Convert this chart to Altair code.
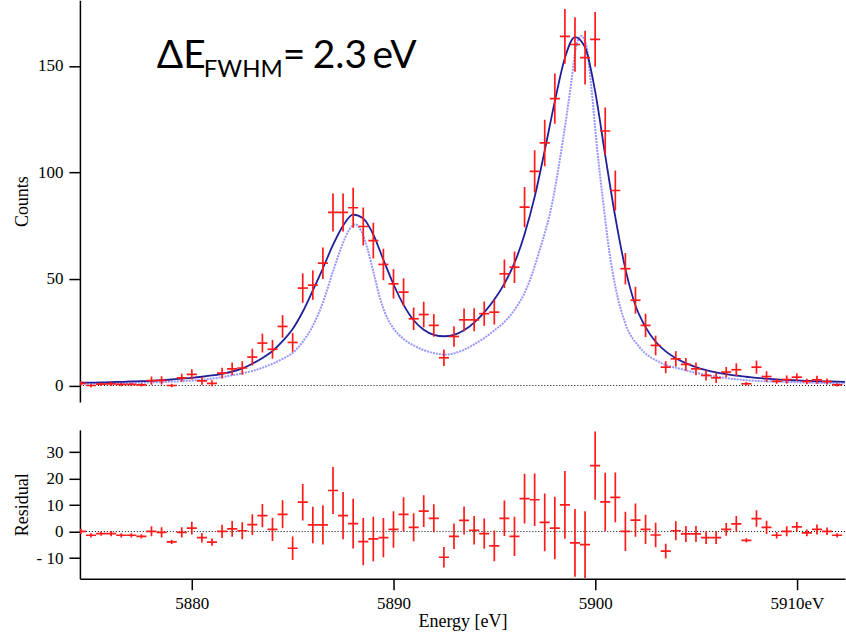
import altair as alt
import pandas as pd

# ---------------- data ----------------
energy = [5874.5, 5875.0, 5875.5, 5876.0, 5876.5, 5877.0, 5877.5, 5878.0, 5878.5, 5879.0,
          5879.5, 5880.0, 5880.5, 5881.0, 5881.5, 5882.0, 5882.5, 5883.0, 5883.5, 5884.0,
          5884.5, 5885.0, 5885.5, 5886.0, 5886.5, 5887.0, 5887.5, 5888.0, 5888.5, 5889.0,
          5889.5, 5890.0, 5890.5, 5891.0, 5891.5, 5892.0, 5892.5, 5893.0, 5893.5, 5894.0,
          5894.5, 5895.0, 5895.5, 5896.0, 5896.5, 5897.0, 5897.5, 5898.0, 5898.5, 5899.0,
          5899.5, 5900.0, 5900.5, 5901.0, 5901.5, 5902.0, 5902.5, 5903.0, 5903.5, 5904.0,
          5904.5, 5905.0, 5905.5, 5906.0, 5906.5, 5907.0, 5907.5, 5908.0, 5908.5, 5909.0,
          5909.5, 5910.0, 5910.5, 5911.0, 5911.5, 5912.0]

counts = [1.0, 0.0, 0.6, 0.8, 0.5, 0.5, 0.3, 2.3, 2.4, 0.0,
          3.6, 5.2, 2.2, 1.0, 5.8, 7.8, 8.2, 13.3, 19.9, 17.0,
          27.7, 20.2, 45.7, 47.1, 57.4, 81.2, 81.2, 83.4, 74.6, 68.0,
          56.8, 47.7, 43.8, 31.3, 33.3, 28.2, 13.0, 23.0, 30.8, 30.8,
          33.7, 34.4, 52.4, 55.5, 83.7, 100.5, 113.8, 134.6, 163.8, 160.0,
          153.8, 162.4, 119.4, 91.5, 54.8, 40.0, 28.2, 18.8, 8.6, 12.5,
          9.9, 7.8, 4.7, 3.6, 6.3, 7.4, 0.8, 8.6, 4.2, 2.0,
          2.8, 3.9, 1.9, 2.7, 1.9, 0.3]

errors = [1.0, 0.8, 0.8, 1.0, 0.8, 0.8, 0.8, 1.9, 1.9, 0.8,
          1.9, 2.4, 1.8, 1.4, 2.5, 3.0, 3.2, 3.9, 4.4, 4.4,
          5.3, 4.4, 6.9, 6.9, 7.4, 8.9, 8.9, 9.4, 8.9, 8.4,
          7.4, 6.9, 6.5, 5.3, 6.0, 5.3, 3.9, 4.8, 5.3, 5.4,
          5.7, 5.8, 6.7, 7.4, 9.4, 9.9, 10.9, 11.8, 12.8, 12.8,
          12.6, 12.9, 11.0, 9.4, 7.4, 6.3, 5.5, 4.6, 2.8, 3.6,
          3.0, 3.0, 2.4, 2.4, 2.4, 3.0, 0.8, 3.1, 2.5, 1.2,
          1.9, 1.8, 1.3, 1.9, 1.4, 0.8]

residual = [0.1, -1.4, -0.8, -0.8, -1.4, -1.4, -1.8, 0.1, -0.3, -3.9,
            -0.3, 1.3, -2.3, -4.0, 0.1, 1.0, 0.3, 2.6, 6.0, 0.8,
            6.5, -6.3, 11.1, 2.5, 2.5, 15.5, 6.0, 3.0, -3.8, -2.8,
            -2.3, 0.8, 6.5, 1.6, 7.7, 5.0, -9.7, -1.8, 4.2, 0.5,
            -0.8, -5.4, 5.0, -1.8, 12.4, 12.0, 3.5, 1.3, 10.1, -4.3,
            -4.9, 24.9, 11.2, 12.9, 0.1, 4.3, 0.8, -1.3, -7.4, 0.3,
            -0.9, -0.9, -2.3, -2.3, 0.8, 2.9, -3.3, 4.9, 1.6, -1.4,
            0.1, 1.8, -0.5, 0.8, 0.1, -1.4]

model_energy = energy + [5912.4]
model = [1.3, 1.3, 1.4, 1.6, 1.7, 1.9, 2.0, 2.2, 2.5, 2.8,
         3.2, 3.6, 4.1, 4.7, 5.5, 6.5, 8.0, 10.2, 12.9, 16.2,
         20.8, 26.5, 34.6, 44.6, 55.0, 66.0, 75.0, 80.2, 78.4, 70.8,
         59.0, 47.5, 37.8, 30.6, 26.2, 23.8, 23.1, 23.8, 25.9, 29.5,
         34.3, 40.3, 47.8, 57.5, 71.0, 88.5, 110.3, 133.3, 153.7, 163.5,
         158.7, 138.0, 108.0, 79.0, 54.7, 37.5, 27.4, 20.5, 16.0, 12.8,
         10.5, 8.6, 7.2, 6.1, 5.3, 4.6, 4.1, 3.6, 3.2, 2.9,
         2.6, 2.4, 2.2, 2.0, 1.9, 1.8, 1.7]

intrinsic_energy = [5874.5, 5876.0, 5877.5, 5879.0, 5880.0, 5881.0, 5882.0, 5883.0, 5884.0,
                    5884.5, 5885.0, 5885.5, 5886.0, 5886.5, 5887.0, 5887.5, 5887.8, 5888.1,
                    5888.4, 5888.7, 5889.0, 5889.3, 5889.7, 5890.0, 5890.5, 5891.0, 5891.5,
                    5892.0, 5892.6, 5893.3, 5894.0, 5894.5, 5895.0, 5895.6, 5896.0, 5896.6,
                    5897.2, 5897.9, 5898.4, 5898.8, 5899.05, 5899.3, 5899.55, 5899.8, 5900.1,
                    5900.4, 5900.7, 5901.0, 5901.5, 5902.2, 5903.2, 5904.3, 5905.6, 5907.6,
                    5910.0, 5912.4]
intrinsic = [0.8, 1.0, 1.3, 1.8, 2.3, 3.2, 4.8, 6.8, 10.2,
             12.5, 15.3, 20.5, 28.0, 39.0, 53.5, 67.0, 73.0, 75.6,
             72.5, 64.5, 53.5, 42.0, 31.5, 26.8, 21.8, 18.8, 16.6,
             15.2, 14.5, 16.0, 19.3, 22.3, 25.8, 30.8, 35.5, 45.5,
             62.0, 87.0, 115.0, 141.0, 158.5, 164.0, 160.0, 141.0, 111.0,
             86.0, 63.0, 46.5, 29.0, 18.0, 10.9, 7.6, 4.8, 2.4,
             1.5, 0.9]

x_ticks = [5880, 5890, 5900, 5910]
count_ticks = [0, 50, 100, 150]
resid_ticks = [-10, 0, 10, 20, 30]

# ---------------- styling ----------------
RED = "#ff1a1a"
NAVY = "#1f1f9c"
LIGHT = "#9696ff"
SERIF = "Liberation Serif"
SANS = "Lato"

W = 766
H_TOP = 402
H_BOT = 149
X_DOMAIN = [5874.45, 5912.39]
TOP_DOMAIN = [-7.7, 180.7]
BOT_DOMAIN = [-17.8, 38.4]

df = pd.DataFrame({"E": energy, "counts": counts, "err": errors, "resid": residual})
df_model = pd.DataFrame({"E": model_energy, "v": model})
df_intr = pd.DataFrame({"E": intrinsic_energy, "v": intrinsic})
zero = pd.DataFrame({"z": [0]})

xs = alt.Scale(domain=X_DOMAIN, nice=False, zero=False)
ys_top = alt.Scale(domain=TOP_DOMAIN, nice=False, zero=False)
ys_bot = alt.Scale(domain=BOT_DOMAIN, nice=False, zero=False)

common_axis = dict(grid=False, domainColor="black", tickColor="black", labelColor="black",
                   titleColor="black", domainWidth=1.5, tickWidth=1.5, tickSize=11,
                   labelPadding=6, labelFont=SERIF, labelFontSize=17, titleFont=SERIF,
                   titleFontSize=18, titleFontWeight="normal")

y_axis_top = alt.Axis(values=count_ticks, title="Counts", titleX=-52,
                      titleBaseline="alphabetic", **common_axis)
y_axis_bot = alt.Axis(values=resid_ticks, title="Residual", titleX=-52,
                      titleBaseline="alphabetic",
                      labelExpr="datum.value < 0 ? '- ' + abs(datum.value) : datum.label",
                      **common_axis)
x_axis_bot = alt.Axis(values=x_ticks, format="d", title="Energy [eV]",
                      labelExpr="datum.value == 5910 ? '5910eV' : datum.label",
                      titleY=48, titleBaseline="alphabetic", **common_axis)

def X(field):
    return alt.X(field, type="quantitative", scale=xs, axis=None)

def Ytop(field):
    return alt.Y(field, type="quantitative", scale=ys_top, axis=y_axis_top)

def Ybot(field):
    return alt.Y(field, type="quantitative", scale=ys_bot, axis=y_axis_bot)

# ---------------- top panel ----------------
base = alt.Chart(df).transform_calculate(
    lo="datum.counts - datum.err", hi="datum.counts + datum.err",
    xl="datum.E - 0.25", xr="datum.E + 0.25",
    rlo="datum.resid - datum.err", rhi="datum.resid + datum.err")

zero_top = alt.Chart(zero).mark_rule(color="black", strokeDash=[1, 2], strokeWidth=1).encode(
    y=alt.Y("z:Q", scale=ys_top, axis=y_axis_top))

intr_line = alt.Chart(df_intr).mark_line(color=LIGHT, strokeWidth=2, strokeDash=[2, 1],
                                         interpolate="monotone", clip=True).encode(
    x=X("E"), y=Ytop("v"))

model_line = alt.Chart(df_model).mark_line(color=NAVY, strokeWidth=1.8,
                                           interpolate="monotone", clip=True).encode(
    x=X("E"), y=Ytop("v"))

vbars = base.mark_rule(color=RED, strokeWidth=1.7, clip=True).encode(
    x=X("E"), y=Ytop("lo"), y2="hi:Q")
hbars = base.mark_rule(color=RED, strokeWidth=1.7, clip=True).encode(
    x=X("xl"), x2="xr:Q", y=Ytop("counts"))

def label(txt, x, y, size):
    return alt.Chart(pd.DataFrame({"t": [txt]})).mark_text(
        font=SANS, fontSize=size, align="left", baseline="alphabetic", color="black"
    ).encode(text="t:N", x=alt.value(x), y=alt.value(y))

annot = [label("\u0394E", 77, 68, 39), label("FWHM", 124, 77, 24),
         label("=", 203, 68, 39), label("2.3", 233, 68, 39), label("eV", 293, 68, 39)]

top = alt.layer(zero_top, intr_line, model_line, vbars, hbars, *annot).properties(
    width=W, height=H_TOP)

# ---------------- residual panel ----------------
zero_bot = alt.Chart(zero).mark_rule(color="black", strokeDash=[1, 2], strokeWidth=1).encode(
    y=alt.Y("z:Q", scale=ys_bot, axis=y_axis_bot))

rv = base.mark_rule(color=RED, strokeWidth=1.7, clip=True).encode(
    x=alt.X("E:Q", scale=xs, axis=x_axis_bot), y=Ybot("rlo"), y2="rhi:Q")
rh = base.mark_rule(color=RED, strokeWidth=1.7, clip=True).encode(
    x=alt.X("xl:Q", scale=xs, axis=x_axis_bot), x2="xr:Q", y=Ybot("resid"))

bottom = alt.layer(zero_bot, rv, rh).properties(width=W, height=H_BOT)

chart = alt.vconcat(top, bottom, spacing=28).properties(
    padding={"left": 14, "top": 0, "right": 0, "bottom": 0},
    background="white",
).configure_view(stroke=None)

chart.save("out.html", embed_options={"renderer": "svg", "actions": False})
